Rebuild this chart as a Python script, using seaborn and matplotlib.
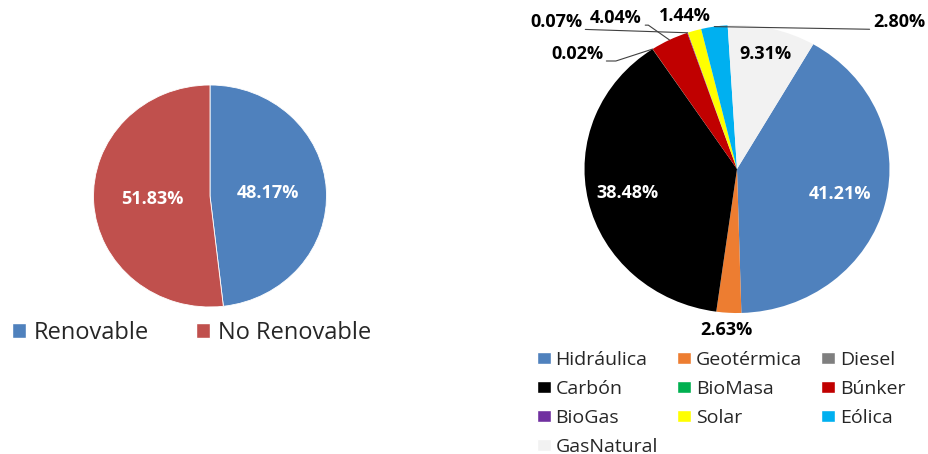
import matplotlib
matplotlib.use("Agg")
import matplotlib.pyplot as plt
import seaborn as sns
import numpy as np
from matplotlib.patches import Patch

# ---------------- data ----------------
left_labels = ["Renovable", "No Renovable"]
left_values = [48.17, 51.83]
left_colors = ["#4F81BD", "#C0504D"]

right_labels = ["Hidráulica", "Geotérmica", "Diesel", "Carbón", "BioMasa",
                "Búnker", "BioGas", "Solar", "Eólica", "GasNatural"]
right_values = [41.21, 2.63, 0.00, 38.48, 0.02, 4.04, 0.07, 1.44, 2.80, 9.31]
right_colors = ["#4F81BD", "#ED7D31", "#7F7F7F", "#000000", "#00B050",
                "#C00000", "#7030A0", "#FFFF00", "#00B0F0", "#F2F2F2"]

# ---------------- style ----------------
sns.set_theme(style="white")
plt.rcParams["font.family"] = ["Open Sans", "DejaVu Sans"]

W, H = 929, 454
LBL = 13
fig = plt.figure(figsize=(W / 100, H / 100), dpi=100)


def make_axes(cx, cy, rx, ry):
    ax = fig.add_axes([0, 0, 1, 1])
    ax.patch.set_alpha(0)
    return ax, (-cx / rx, (W - cx) / rx), (-(H - cy) / ry, cy / ry)


def finish(ax, xl, yl):
    ax.set_xlim(*xl)
    ax.set_ylim(*yl)
    ax.set_aspect("auto")
    ax.axis("off")


# ---------------- left pie ----------------
axL, xl, yl = make_axes(210, 196, 116.5, 111)
wL, _ = axL.pie(left_values, colors=left_colors, startangle=90, counterclock=False,
                wedgeprops=dict(edgecolor="white", linewidth=0.6))
for w, v in zip(wL, left_values):
    a = np.deg2rad((w.theta1 + w.theta2) / 2)
    axL.text(0.5 * np.cos(a), 0.5 * np.sin(a), f"{v:.2f}%", ha="center", va="center",
             color="white", fontsize=LBL, fontweight="bold")
finish(axL, xl, yl)

fig.legend([Patch(facecolor=c) for c in left_colors], left_labels,
           loc="center left", bbox_to_anchor=(12 / W, 1 - 333 / H), ncol=2,
           frameon=False, fontsize=17, handlelength=0.58, handleheight=0.58,
           handletextpad=0.33, columnspacing=2.02, borderpad=0, borderaxespad=0)

# ---------------- right pie ----------------
axR, xl, yl = make_axes(737, 169, 152.5, 144)
wR, _ = axR.pie(right_values, colors=right_colors, startangle=60, counterclock=False,
                wedgeprops=dict(edgecolor="none", linewidth=0))

inside = {"Hidráulica": (0.70, "white"), "Carbón": (0.74, "white"),
          "GasNatural": (0.82, "black")}
# outside label placement (text centre in radius units) and leader style
outside = {
    "Geotérmica": ((-0.07, -1.118), None),
    "BioMasa": ((-1.049, 0.80), ("angle", 18, (1, 0.1))),
    "BioGas": ((-1.187, 1.02), ("arc3", 0, (1, 0.1))),
    "Búnker": ((-0.793, 1.049), ("angle", -35, (1, 0.1))),
    "Solar": ((-0.341, 1.0625), None),
    "Eólica": ((1.062, 1.02), ("arc3", 0, (0, 0.1))),
}

for name, w, v in zip(right_labels, wR, right_values):
    a = np.deg2rad((w.theta1 + w.theta2) / 2)
    txt = f"{v:.2f}%"
    if name in inside:
        r, col = inside[name]
        axR.text(r * np.cos(a), r * np.sin(a), txt, ha="center", va="center",
                 color=col, fontsize=LBL, fontweight="bold")
    elif name in outside:
        (lx, ly), lead = outside[name]
        if lead is None:
            axR.text(lx, ly, txt, ha="center", va="center", color="black",
                     fontsize=LBL, fontweight="bold")
        else:
            style, ang, rp = lead
            cs = f"angle,angleA=0,angleB={ang},rad=0" if style == "angle" else "arc3,rad=0"
            axR.annotate(txt, xy=(np.cos(a), np.sin(a)), xytext=(lx, ly),
                         ha="center", va="center", color="black", fontsize=LBL,
                         fontweight="bold", annotation_clip=False,
                         arrowprops=dict(arrowstyle="-", color="#404040", lw=0.8,
                                         shrinkA=0, shrinkB=0, relpos=rp,
                                         connectionstyle=cs))
finish(axR, xl, yl)

ncol = 3
n = len(right_labels)
rows = int(np.ceil(n / ncol))
order = [r * ncol + c for c in range(ncol) for r in range(rows) if r * ncol + c < n]
handles = [Patch(facecolor=right_colors[i]) for i in order]
labs = [right_labels[i] for i in order]
fig.legend(handles, labs, loc="upper left", bbox_to_anchor=(537 / W, 1 - 351 / H),
           ncol=ncol, frameon=False, fontsize=14, handlelength=0.7, handleheight=0.62,
           handletextpad=0.25, columnspacing=1.0, labelspacing=0.56,
           borderpad=0, borderaxespad=0)

fig.savefig("out.png", dpi=100, facecolor="white")
